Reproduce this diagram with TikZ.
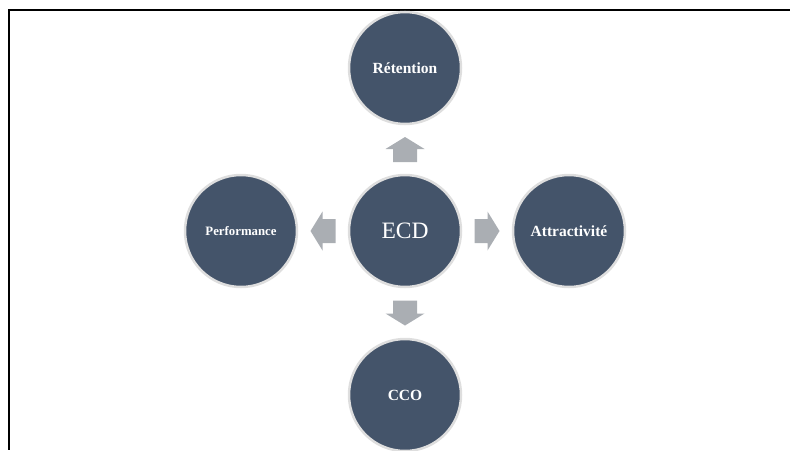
\documentclass[tikz,border=0pt]{standalone}
\usepackage{fontspec}
\setmainfont{Liberation Serif}
\usetikzlibrary{calc}
\definecolor{circfill}{HTML}{44546A}
\definecolor{circline}{HTML}{DEDEDE}
\definecolor{arrowgray}{HTML}{AAAEB3}
\tikzset{
  bubble/.style={circle, fill=circfill, draw=circline, line width=2.5pt,
    minimum size=112pt, inner sep=0pt, text=white, font=\fontsize{15.5}{18}\selectfont\bfseries},
  frameline/.style={line width=2pt, black},
  blockarr/.pic={
    \fill[arrowgray] (-12.5,-12) -- (0.5,-12) -- (0.5,-19.5) -- (12.5,0)
      -- (0.5,19.5) -- (0.5,12) -- (-12.5,12) -- cycle;
  }
}
\begin{document}
\begin{tikzpicture}[x=1pt,y=-1pt]
\useasboundingbox (0,0) rectangle (790,450);
\coordinate (ftl) at (8.5,9.5);
\coordinate (ftr) at (790,9.5);
\coordinate (fbl) at (8.5,450);
\draw[frameline] (ftr) -- (ftl) -- (fbl);
\node[bubble, font=\fontsize{23.5}{26}\selectfont] (ecd) at (405,231) {ECD};
\node[bubble] (ret) at (405,68) {Rétention};
\node[bubble] (cco) at (405,395) {CCO};
\node[bubble, font=\fontsize{12.8}{15}\selectfont\bfseries] (perf) at (241,231) {Performance};
\node[bubble] (attr) at (569,231) {Attractivité};
\coordinate (mup) at ($(ecd)!0.5!(ret)$);
\coordinate (mdown) at ($(ecd)!0.5!(cco)$);
\coordinate (mleft) at ($(ecd)!0.5!(perf)$);
\coordinate (mright) at ($(ecd)!0.5!(attr)$);
\pic[rotate=90] (aup) at (mup) {blockarr};
\pic[rotate=-90] (adown) at (mdown) {blockarr};
\pic[rotate=180] (aleft) at (mleft) {blockarr};
\pic (aright) at (mright) {blockarr};
\end{tikzpicture}
\end{document}
